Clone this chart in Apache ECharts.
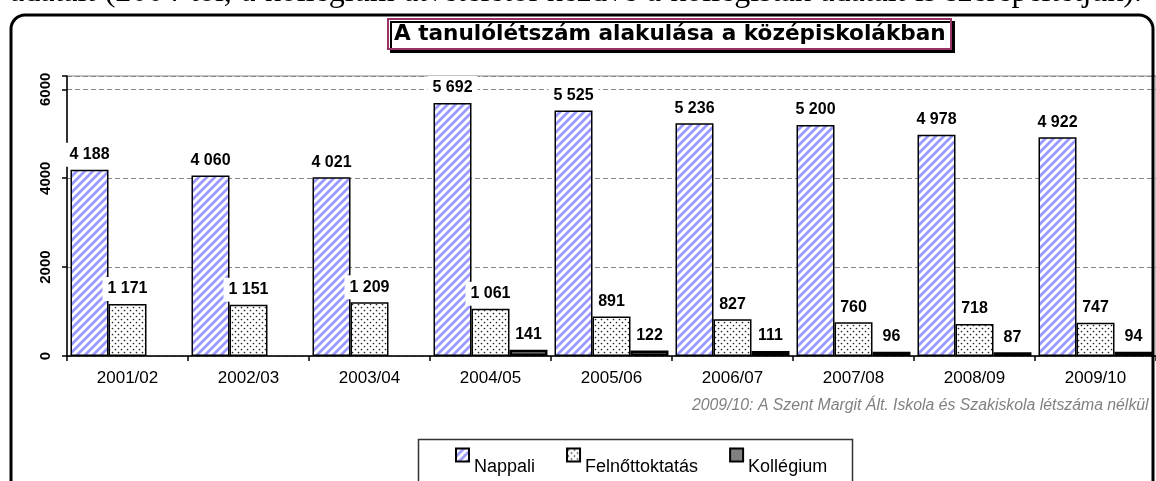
<!DOCTYPE html>
<html><head><meta charset="utf-8">
<script src="https://cdn.jsdelivr.net/npm/echarts@6/dist/echarts.min.js"></script>
<style>html,body{margin:0;padding:0;background:#fff;overflow:hidden}#c{width:1156px;height:481px}</style>
</head><body><div id="c"></div>
<script>
const categories = ['2001/02','2002/03','2003/04','2004/05','2005/06','2006/07','2007/08','2008/09','2009/10'];
const nappali = [4188,4060,4021,5692,5525,5236,5200,4978,4922];
const felnott = [1171,1151,1209,1061,891,827,760,718,747];
const kollegium = [null,null,null,141,122,111,96,87,94];
const seriesNames = ['Nappali','Felnőttoktatás','Kollégium'];
const yTicks = [0,2000,4000,6000];
const titleText = 'A tanulólétszám alakulása a középiskolákban';
const noteText = '2009/10: A Szent Margit Ált. Iskola és Szakiskola létszáma nélkül';
const docText = 'adatait (2004-től, a kollégium átvételétől kezdve a kollégisták adatait is szerepeltetjük).';

function stripePattern(){
  const c=document.createElement('canvas'); c.width=8; c.height=8;
  const g=c.getContext('2d');
  g.fillStyle='#fff'; g.fillRect(0,0,8,8);
  g.strokeStyle='#9999ff'; g.lineWidth=2.7; g.beginPath();
  g.moveTo(-4,4); g.lineTo(4,-4);
  g.moveTo(-1,9); g.lineTo(9,-1);
  g.moveTo(4,12); g.lineTo(12,4);
  g.stroke();
  return c;
}
function dotPattern(){
  const c=document.createElement('canvas'); c.width=6; c.height=6;
  const g=c.getContext('2d');
  g.fillStyle='#fff'; g.fillRect(0,0,6,6);
  g.fillStyle='#222';
  g.beginPath(); g.arc(1.5,1.5,0.85,0,Math.PI*2); g.fill();
  g.beginPath(); g.arc(4.5,4.5,0.85,0,Math.PI*2); g.fill();
  return c;
}
function fmt(v){ return v==null ? '' : String(v).replace(/\B(?=(\d{3})+(?!\d))/g,' '); }

// justified document line (only its lower part is visible)
function docWords(){
  const font='32px "Liberation Serif"';
  const ctx=document.createElement('canvas').getContext('2d'); ctx.font=font;
  const words=docText.split(' ');
  const widths=words.map(w=>ctx.measureText(w).width);
  const total=widths.reduce((a,b)=>a+b,0);
  const x0=10, x1=1142;
  const gap=(x1-x0-total)/(words.length-1);
  let x=x0; const els=[];
  words.forEach((w,i)=>{
    els.push({type:'text', z:100, style:{text:w, x:x, y:-7, font:font, fill:'#000', verticalAlign:'middle', align:'left'}});
    x+=widths[i]+gap;
  });
  return els;
}

const FONT = 'Liberation Sans';
const labelStyle = {
  show:true, position:'top', distance:3, formatter:p=>fmt(p.value),
  fontFamily:FONT, fontSize:16, fontWeight:'bold', color:'#000',
  backgroundColor:'#fff', padding:[4,5]
};

const chart = echarts.init(document.getElementById('c'));
chart.setOption({
  animation:false,
  backgroundColor:'#fff',
  title:[{
    text:titleText, left:388, top:19, padding:[4,6],
    textStyle:{fontFamily:'DejaVu Sans', fontWeight:'bold', fontSize:21.6, color:'#000'},
    borderColor:'#993366', borderWidth:2, backgroundColor:'#fff',
    shadowColor:'#000', shadowOffsetX:3, shadowOffsetY:3, shadowBlur:0
  },{
    text:noteText, left:692, top:398, padding:0,
    textStyle:{fontFamily:FONT, fontStyle:'italic', fontWeight:'normal', fontSize:15.8, color:'#808080'}
  }],
  legend:{
    data:seriesNames, left:455, top:431, padding:0, itemGap:31,
    itemWidth:13, itemHeight:13, icon:'rect',
    formatter:n=>'\n'+n,
    textStyle:{fontFamily:FONT, fontSize:18, color:'#000', lineHeight:24}
  },
  grid:{left:67, right:0, top:76, bottom:125, show:true, borderColor:'#888', borderWidth:1, backgroundColor:'transparent'},
  xAxis:{
    type:'category', data:categories,
    axisLine:{lineStyle:{color:'#000', width:1.5}},
    axisTick:{show:true, length:5, lineStyle:{color:'#000', width:1.5}},
    axisLabel:{fontFamily:FONT, fontSize:17, color:'#000', margin:14}
  },
  yAxis:{
    type:'value', min:0, max:6300, interval:2000,
    axisLine:{show:true, lineStyle:{color:'#000', width:1.5}},
    axisTick:{show:true, length:5, lineStyle:{color:'#000', width:1.5}},
    axisLabel:{rotate:90, fontFamily:FONT, fontSize:15, fontWeight:'bold', color:'#000', margin:14,
      formatter:v=>yTicks.includes(v)?String(v):''},
    splitLine:{show:true, lineStyle:{color:'#888', type:[5,3], width:1}}
  },
  series:[
    {name:seriesNames[0], type:'bar', data:nappali, barGap:0, barCategoryGap:'5.8%',
      itemStyle:{color:{image:stripePattern(), repeat:'repeat'}, borderColor:'#000', borderWidth:1.5},
      label:labelStyle},
    {name:seriesNames[1], type:'bar', data:felnott,
      itemStyle:{color:{image:dotPattern(), repeat:'repeat'}, borderColor:'#000', borderWidth:1.5},
      label:labelStyle},
    {name:seriesNames[2], type:'bar', data:kollegium,
      itemStyle:{color:'#808080', borderColor:'#000', borderWidth:2.5},
      label:labelStyle}
  ],
  graphic:docWords().concat([
    {type:'rect', z:100, shape:{x:11, y:15, width:1142, height:540, r:14}, style:{fill:null, stroke:'#000', lineWidth:3}},
    {type:'rect', z:100, shape:{x:418.5, y:439.5, width:434, height:60}, style:{fill:null, stroke:'#333', lineWidth:1.5}}
  ])
});
</script></body></html>
